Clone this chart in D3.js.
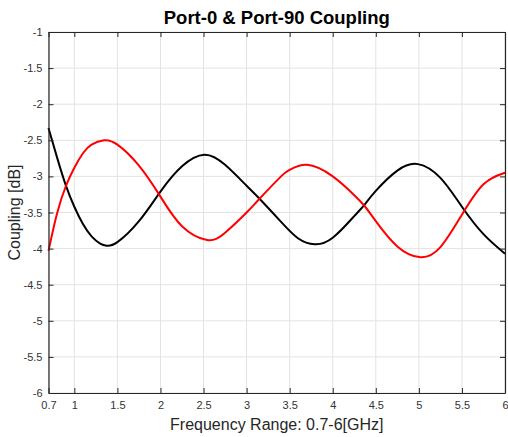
<!DOCTYPE html>
<html>
<head>
<meta charset="utf-8">
<script src="https://cdn.jsdelivr.net/npm/d3@7"></script>
<style>
  body { margin: 0; background: #fff; }
  text { font-family: "Liberation Sans", Arial, sans-serif; }
</style>
</head>
<body>
<svg width="508" height="437"></svg>
<script>
const svg = d3.select("svg");

// frequency points [GHz] and coupling [dB]
const freqBlack = [0.7, 0.8, 0.9, 1.0, 1.1, 1.2, 1.3, 1.376, 1.5, 1.75, 2.0, 2.25, 2.51, 2.75, 3.0, 3.15, 3.4, 3.6, 3.79, 4.0, 4.25, 4.37, 4.5, 4.75, 4.99, 5.25, 5.5, 5.75, 6.0];
const black = [-2.33, -2.74, -3.12, -3.42, -3.66, -3.83, -3.93, -3.96, -3.91, -3.62, -3.21, -2.86, -2.70, -2.84, -3.13, -3.31, -3.63, -3.86, -3.94, -3.85, -3.55, -3.39, -3.20, -2.92, -2.83, -3.02, -3.42, -3.80, -4.07];

const freqRed = [0.7, 0.8, 0.9, 1.0, 1.1, 1.2, 1.345, 1.5, 1.75, 2.0, 2.25, 2.54, 2.75, 3.0, 3.15, 3.4, 3.5, 3.7, 4.0, 4.25, 4.37, 4.5, 4.75, 5.02, 5.25, 5.5, 5.75, 6.0];
const red = [-4.03, -3.51, -3.14, -2.88, -2.68, -2.56, -2.50, -2.56, -2.85, -3.28, -3.69, -3.88, -3.78, -3.50, -3.31, -3.00, -2.91, -2.84, -3.00, -3.26, -3.41, -3.62, -3.97, -4.12, -3.98, -3.53, -3.11, -2.95];

const xTicks = [0.7, 1, 1.5, 2, 2.5, 3, 3.5, 4, 4.5, 5, 5.5, 6];
const yTicks = [-1, -1.5, -2, -2.5, -3, -3.5, -4, -4.5, -5, -5.5, -6];

const margin = { top: 32, bottom: 44, left: 48.5, right: 3 };
const width = 508 - margin.left - margin.right;
const height = 437 - margin.top - margin.bottom;

const x = d3.scaleLinear().domain([0.7, 6]).range([0, width]);
const y = d3.scaleLinear().domain([-6, -1]).range([height, 0]);

const graph = svg.append("g")
  .attr("transform", `translate(${margin.left},${margin.top})`);

// grid
graph.append("g").selectAll("line").data(xTicks).enter().append("line")
  .attr("x1", d => x(d)).attr("x2", d => x(d))
  .attr("y1", 0).attr("y2", height)
  .attr("stroke", "#e3e3e3").attr("stroke-width", 1);
graph.append("g").selectAll("line").data(yTicks).enter().append("line")
  .attr("x1", 0).attr("x2", width)
  .attr("y1", d => y(d)).attr("y2", d => y(d))
  .attr("stroke", "#e3e3e3").attr("stroke-width", 1);

// curves
const line = d3.line()
  .x(d => x(d[0]))
  .y(d => y(d[1]))
  .curve(d3.curveNatural);

graph.append("path")
  .datum(d3.zip(freqBlack, black))
  .attr("d", line)
  .attr("fill", "none").attr("stroke", "#000").attr("stroke-width", 2);

graph.append("path")
  .datum(d3.zip(freqRed, red))
  .attr("d", line)
  .attr("fill", "none").attr("stroke", "#ff0000").attr("stroke-width", 2);

// axes (ticks inward, box on)
const axisColor = "#262626";
const fmt = d => String(d);

const xAxis = graph.append("g").attr("transform", `translate(0,${height})`)
  .call(d3.axisBottom(x).tickValues(xTicks).tickFormat(fmt).tickSizeInner(-5).tickSizeOuter(0).tickPadding(8));
const yAxis = graph.append("g")
  .call(d3.axisLeft(y).tickValues(yTicks).tickFormat(fmt).tickSizeInner(-5).tickSizeOuter(0).tickPadding(6));
const xTop = graph.append("g")
  .call(d3.axisTop(x).tickValues(xTicks).tickFormat("").tickSizeInner(-5).tickSizeOuter(0));
const yRight = graph.append("g").attr("transform", `translate(${width},0)`)
  .call(d3.axisRight(y).tickValues(yTicks).tickFormat("").tickSizeInner(-5).tickSizeOuter(0));

[xAxis, yAxis, xTop, yRight].forEach(a => {
  a.select(".domain").attr("stroke", axisColor).attr("stroke-width", 1.2);
  a.selectAll(".tick line").attr("stroke", axisColor);
  a.selectAll(".tick text")
    .attr("fill", "#333")
    .style("font-family", "'Liberation Sans', Arial, sans-serif")
    .style("font-size", "11px");
});

// title and labels
svg.append("text")
  .attr("x", margin.left + width / 2).attr("y", 24)
  .attr("text-anchor", "middle")
  .attr("textLength", 226).attr("lengthAdjust", "spacingAndGlyphs")
  .style("font-size", "17.5px").style("font-weight", "bold")
  .attr("fill", "#000")
  .text("Port-0 & Port-90 Coupling");

svg.append("text")
  .attr("x", margin.left + width / 2).attr("y", 430)
  .attr("text-anchor", "middle")
  .style("font-size", "16px")
  .attr("fill", "#262626")
  .text("Frequency Range: 0.7-6[GHz]");

svg.append("text")
  .attr("transform", `translate(20,${margin.top + height / 2}) rotate(-90)`)
  .attr("text-anchor", "middle")
  .style("font-size", "16px")
  .attr("fill", "#262626")
  .text("Coupling [dB]");
</script>
</body>
</html>
